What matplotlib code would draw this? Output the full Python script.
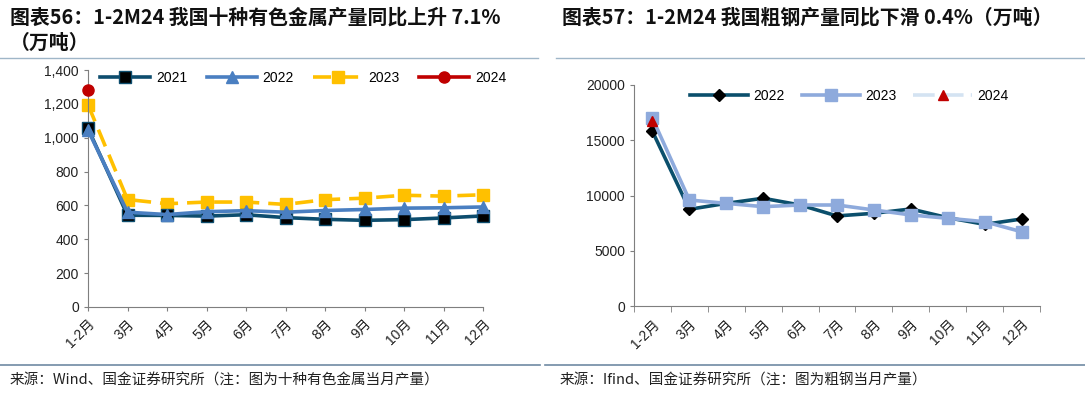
import matplotlib
matplotlib.use("Agg")
import matplotlib.pyplot as plt
import numpy as np

plt.rcParams['font.family'] = ['Liberation Sans', 'Noto Sans CJK SC', 'DejaVu Sans']

months = ['1-2月', '3月', '4月', '5月', '6月', '7月', '8月', '9月', '10月', '11月', '12月']

# Chart 56: ten non-ferrous metals output (10k tonnes)
nf_2021 = [1055, 542, 541, 537, 545, 528, 518, 512, 516, 526, 538]
nf_2022 = [1045, 560, 546, 563, 569, 560, 570, 576, 584, 586, 591]
nf_2023 = [1195, 635, 610, 620, 620, 606, 634, 643, 660, 655, 663]
nf_2024 = [1280]

# Chart 57: crude steel output (10k tonnes)
st_2022 = [15800, 8750, 9290, 9750, 9140, 8150, 8390, 8780, 7990, 7390, 7870]
st_2023 = [16990, 9590, 9290, 8990, 9140, 9140, 8690, 8240, 7940, 7630, 6720]
st_2024 = [16770]

W, H = 1085, 393
fig = plt.figure(figsize=(W / 100, H / 100), dpi=100)

def rect(x0, y0, x1, y1):
    return [x0 / W, 1 - y1 / H, (x1 - x0) / W, (y1 - y0) / H]

cjk = ['Noto Sans CJK SC', 'DejaVu Sans']

# Titles
fig.text(10 / W, 1 - 17 / H, '图表56：1-2M24 我国十种有色金属产量同比上升 7.1%', fontsize=14.3,
         fontweight='bold', family=cjk, va='center', ha='left', color='#111111')
fig.text(10 / W, 1 - 42 / H, '（万吨）', fontsize=14.3, fontweight='bold', family=cjk,
         va='center', ha='left', color='#111111')
fig.text(562 / W, 1 - 17 / H, '图表57：1-2M24 我国粗钢产量同比下滑 0.4%（万吨）', fontsize=14.3,
         fontweight='bold', family=cjk, va='center', ha='left', color='#111111')

# Separator lines
fig.add_artist(plt.Line2D([0, 538 / W], [1 - 58 / H] * 2, color='#9fb6c8', lw=1))
fig.add_artist(plt.Line2D([556 / W, 1], [1 - 58 / H] * 2, color='#9fb6c8', lw=1))
fig.add_artist(plt.Line2D([0, 540 / W], [1 - 365 / H] * 2, color='#6f8aa3', lw=1.2))
fig.add_artist(plt.Line2D([545 / W, 1], [1 - 365 / H] * 2, color='#6f8aa3', lw=1.2))

# Sources
fig.text(10 / W, 1 - 381 / H, '来源：Wind、国金证券研究所（注：图为十种有色金属当月产量）', fontsize=10.5,
         family=cjk, va='center', ha='left', color='#222222')
fig.text(560 / W, 1 - 381 / H, '来源：Ifind、国金证券研究所（注：图为粗钢当月产量）', fontsize=10.5,
         family=cjk, va='center', ha='left', color='#222222')

x = np.arange(len(months))

# ---------- Left chart ----------
ax1 = fig.add_axes(rect(88, 70, 483, 307))
ax1.plot(x, nf_2021, color='#0d4d6e', lw=2.6, marker='s', ms=8, mfc='black', mec='#0d4d6e',
         mew=1, label='2021', clip_on=False, zorder=3)
ax1.plot(x, nf_2022, color='#4a7fc1', lw=2.6, marker='^', ms=8, mfc='#4a7fc1', mec='#4a7fc1',
         label='2022', clip_on=False, zorder=4)
ax1.plot(x, nf_2023, color='#ffc000', lw=2.6, ls=(0, (5, 2.5)), marker='s', ms=9, mfc='#ffc000',
         mec='#ffc000', label='2023', clip_on=False, zorder=2)
ax1.plot(x[:len(nf_2024)], nf_2024, color='#c00000', lw=2.6, marker='o', ms=8, mfc='#c00000',
         mec='#c00000', label='2024', clip_on=False, zorder=5)
ax1.set_xlim(0, 10)
ax1.set_ylim(0, 1400)
ax1.set_yticks(range(0, 1401, 200))
ax1.set_yticklabels(['0', '200', '400', '600', '800', '1,000', '1,200', '1,400'])
ax1.set_xticks(x)
ax1.set_xticklabels(months, rotation=45, ha='right', rotation_mode='anchor')
for s in ['top', 'right']:
    ax1.spines[s].set_visible(False)
for s in ['left', 'bottom']:
    ax1.spines[s].set_color('#7f7f7f')
ax1.tick_params(axis='both', labelsize=10, colors='#7f7f7f', labelcolor='#222222', length=3)
ax1.tick_params(axis='x', pad=4)
ax1.legend(loc='upper center', bbox_to_anchor=(0.545, 1.05), ncol=4, frameon=False,
           fontsize=10, handlelength=3.6, columnspacing=1.4, handletextpad=0.4)

# ---------- Right chart ----------
ax2 = fig.add_axes(rect(634, 85, 1040, 306))
ax2.plot(x, st_2022, color='#0b4f6c', lw=2.6, marker='D', ms=6, mfc='black', mec='black',
         label='2022', zorder=3)
ax2.plot(x, st_2023, color='#8eaadc', lw=2.6, marker='s', ms=9, mfc='#8eaadc', mec='#8eaadc',
         label='2023', zorder=4)
ax2.plot(x[:len(st_2024)], st_2024, color='#d4e3f2', lw=2.6, ls=(0, (6, 2)), marker='^', ms=7,
         mfc='#c00000', mec='#c00000', label='2024', zorder=5)
ax2.set_xlim(-0.5, 10.5)
ax2.set_ylim(0, 20000)
ax2.set_yticks(range(0, 20001, 5000))
ax2.set_xticks(x)
ax2.set_xticklabels(months, rotation=45, ha='right', rotation_mode='anchor')
ax2.set_xticks(np.arange(-0.5, 11, 1), minor=True)
ax2.tick_params(axis='x', which='major', length=0, pad=8)
ax2.tick_params(axis='x', which='minor', length=4, colors='#7f7f7f')
for s in ['top', 'right']:
    ax2.spines[s].set_visible(False)
for s in ['left', 'bottom']:
    ax2.spines[s].set_color('#7f7f7f')
ax2.tick_params(axis='y', length=3, colors='#7f7f7f', labelcolor='#222222')
ax2.tick_params(axis='both', labelsize=10, labelcolor='#222222')
ax2.legend(loc='upper center', bbox_to_anchor=(0.53, 1.04), ncol=3, frameon=False,
           fontsize=10, handlelength=4.2, columnspacing=1.2, handletextpad=0.4)

fig.savefig('out.png', dpi=100)
